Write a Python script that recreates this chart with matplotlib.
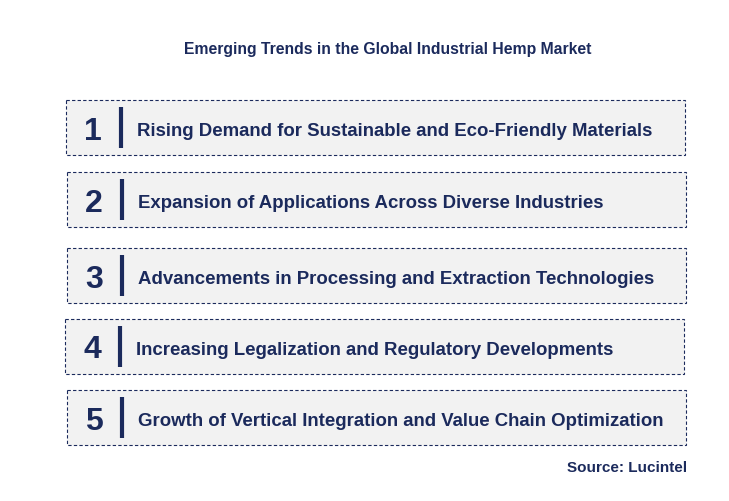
import matplotlib
matplotlib.use("Agg")
import matplotlib.pyplot as plt
from matplotlib.patches import Rectangle

title = "Emerging Trends in the Global Industrial Hemp Market"
numbers = ["1", "2", "3", "4", "5"]
trends = [
    "Rising Demand for Sustainable and Eco-Friendly Materials",
    "Expansion of Applications Across Diverse Industries",
    "Advancements in Processing and Extraction Technologies",
    "Increasing Legalization and Regulatory Developments",
    "Growth of Vertical Integration and Value Chain Optimization",
]
source = "Source: Lucintel"

box_x = [66, 67, 67, 65, 67]
box_y = [100, 172, 248, 319, 390]
box_w, box_h = 619, 55
navy = "#1b2a5c"

plt.rcParams['font.family'] = ['Liberation Sans', 'DejaVu Sans']
fig = plt.figure(figsize=(7.29, 5.01), dpi=100)
ax = fig.add_axes([0, 0, 1, 1])
ax.set_xlim(0, 729)
ax.set_ylim(501, 0)
ax.axis('off')

ax.text(388, 49, title, ha='center', va='center', fontsize=11.3, fontweight='bold', color=navy)
for x, y, n, t in zip(box_x, box_y, numbers, trends):
    ax.add_patch(Rectangle((x, y), box_w, box_h, facecolor='#f2f2f2', edgecolor=navy,
                           lw=0.8, linestyle=(0, (3, 2))))
    cy = y + box_h / 2
    ax.text(x + 27, cy + 4, n, ha='center', va='center', fontsize=23, fontweight='bold', color=navy)
    ax.plot([x + 55, x + 55], [y + 7, y + box_h - 7], color=navy, lw=3, solid_capstyle='butt')
    ax.text(x + 71, cy + 4, t, ha='left', va='center', fontsize=13.4, fontweight='bold', color=navy)
ax.text(687, 468, source, ha='right', va='center', fontsize=11, fontweight='bold', color=navy)

fig.savefig("out.png", dpi=100)
